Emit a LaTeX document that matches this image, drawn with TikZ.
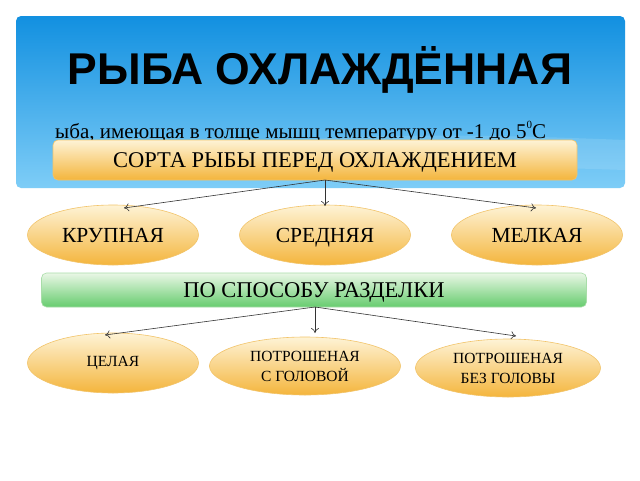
\documentclass[tikz,border=0pt]{standalone}
\usepackage{fontspec}
\setmainfont{Liberation Serif}
\newfontfamily\titlefont{Liberation Sans}
\usetikzlibrary{shapes.geometric,arrows.meta}
\definecolor{bluetop}{HTML}{1290E0}
\definecolor{bluebot}{HTML}{7ECDF7}
\definecolor{ortop}{HTML}{FEF3D6}
\definecolor{orbot}{HTML}{F4B53C}
\definecolor{orline}{HTML}{F2C46A}
\definecolor{grtop}{HTML}{EAF7E6}
\definecolor{grbot}{HTML}{66CC6E}
\definecolor{grline}{HTML}{A8DDA8}
\tikzset{
  banner/.style={rectangle, rounded corners=5pt, draw=orline, line width=0.6pt,
    top color=ortop, bottom color=orbot, inner sep=0pt},
  gbanner/.style={rectangle, rounded corners=5pt, draw=grline, line width=0.6pt,
    top color=grtop, bottom color=grbot, inner sep=0pt},
  oval/.style={ellipse, draw=orline, line width=0.6pt, top color=ortop, bottom color=orbot,
    minimum width=171pt, minimum height=60pt, inner sep=0pt, align=center},
  bigtext/.style={font=\fontsize{21.5}{24}\selectfont, text height=14.5pt, text depth=0pt},
  smalltext/.style={font=\fontsize{15.5}{20}\selectfont},
  conn/.style={draw=black!80, line width=0.6pt, -{To[length=5pt,width=8pt]}}
}
\begin{document}
\begin{tikzpicture}[x=1pt,y=-1pt]
\useasboundingbox (0,0) rectangle (640,480);
\fill[white] (0,0) rectangle (640,480);
% blue header
\shade[top color=bluetop, bottom color=bluebot, rounded corners=5pt] (16,16) rectangle (625,188);
\fill[white, opacity=0.12] (180,150) .. controls (350,130) and (500,135) .. (625,140) -- (625,170) .. controls (480,165) and (330,165) .. (180,150) -- cycle;
\node (title) at (320,70) {\titlefont\bfseries\fontsize{44.5}{48}\selectfont РЫБА ОХЛАЖДЁННАЯ};
\node[anchor=base west, inner sep=0pt] (sub) at (55,138) {\fontsize{21}{24}\selectfont ыба, имеющая в толще мышц температуру от -1 до 5\raisebox{0.45em}{\fontsize{11}{12}\selectfont 0}С};
% first banner
\node[banner, minimum width=524pt, minimum height=40pt, font=\fontsize{22.5}{26}\selectfont, text height=15pt, text depth=0pt] (sorta) at (315,160) {СОРТА РЫБЫ ПЕРЕД ОХЛАЖДЕНИЕМ};
\node[oval, bigtext] (krup) at (113,235) {КРУПНАЯ};
\node[oval, bigtext] (sred) at (325,235) {СРЕДНЯЯ};
\node[oval, bigtext] (melk) at (537,235) {МЕЛКАЯ};
\coordinate (s1) at (325,180);
\coordinate (e1) at (124,208);
\coordinate (e2) at (325,206);
\coordinate (e3) at (536,208);
\draw[conn] (s1) -- (e1);
\draw[conn] (s1) -- (e2);
\draw[conn] (s1) -- (e3);
% second banner
\node[gbanner, minimum width=545pt, minimum height=34pt, font=\fontsize{22.5}{26}\selectfont, text height=15pt, text depth=0pt] (razd) at (314,290) {ПО СПОСОБУ РАЗДЕЛКИ};
\node[oval, smalltext] (cel) at (113,363) {ЦЕЛАЯ};
\node[oval, smalltext, minimum width=191pt, minimum height=58pt] (pg) at (305,366) {ПОТРОШЕНАЯ\\С ГОЛОВОЙ};
\node[oval, smalltext, minimum width=185pt, minimum height=58pt] (pbg) at (508,368) {ПОТРОШЕНАЯ\\БЕЗ ГОЛОВЫ};
\coordinate (s2) at (315,307);
\coordinate (f1) at (105,335);
\coordinate (f2) at (315,333);
\coordinate (f3) at (516,336);
\draw[conn] (s2) -- (f1);
\draw[conn] (s2) -- (f2);
\draw[conn] (s2) -- (f3);
\end{tikzpicture}
\end{document}
